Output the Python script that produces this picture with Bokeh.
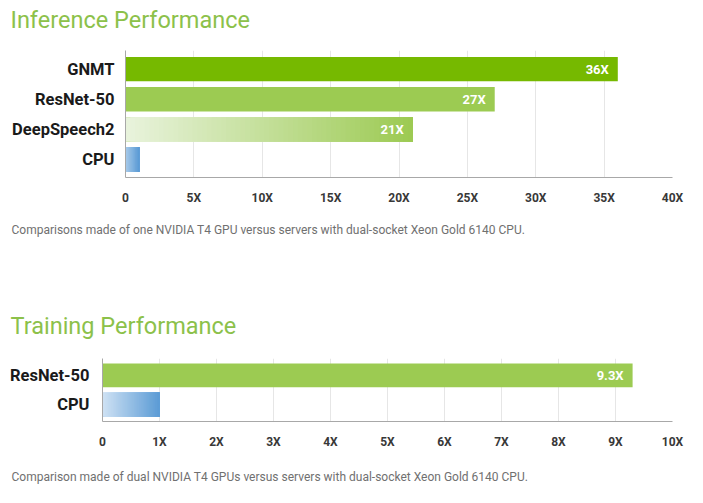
from bokeh.plotting import figure
from bokeh.models import ColumnDataSource, Range1d, Title, LabelSet, FixedTicker
from bokeh.core.properties import value
from bokeh.embed import file_html
from bokeh.resources import INLINE

# ---------------- data ----------------
inf_title = "Inference Performance"
inf_note = "Comparisons made of one NVIDIA T4 GPU versus servers with dual-socket Xeon Gold 6140 CPU."
inf_cats = ["GNMT", "ResNet-50", "DeepSpeech2", "CPU"]
inf_vals = [36, 27, 21, 1]
inf_labels = ["36X", "27X", "21X", ""]
inf_ticks = [0, 5, 10, 15, 20, 25, 30, 35, 40]
inf_tick_labels = ["0", "5X", "10X", "15X", "20X", "25X", "30X", "35X", "40X"]

train_title = "Training Performance"
train_note = "Comparison made of dual NVIDIA T4 GPUs versus servers with dual-socket Xeon Gold 6140 CPU."
train_cats = ["ResNet-50", "CPU"]
train_vals = [9.3, 1]
train_labels = ["9.3X", ""]
train_ticks = [0, 1, 2, 3, 4, 5, 6, 7, 8, 9, 10]
train_tick_labels = ["0", "1X", "2X", "3X", "4X", "5X", "6X", "7X", "8X", "9X", "10X"]

# ---------------- styles ----------------
inf_colors = [("#76b900", "#76b900"), ("#9ccb52", "#9ccb52"),
              ("#e9f3dd", "#9cca52"), ("#a9cbea", "#5b9bd5")]
train_colors = [("#9ccb52", "#9ccb52"), ("#cfe2f4", "#5b9bd5")]

TITLE_COLOR = "#8cc14a"
FONT = "Roboto"
WIDTH = 700


def hex2rgb(h):
    h = h.lstrip("#")
    return tuple(int(h[i:i + 2], 16) for i in (0, 2, 4))


def mix(c1, c2, t):
    a, b = hex2rgb(c1), hex2rgb(c2)
    return "#%02x%02x%02x" % tuple(round(a[i] + (b[i] - a[i]) * t) for i in range(3))


def make_title(text, height, standoff):
    t = figure(width=WIDTH, height=height, output_backend="svg", toolbar_location=None,
               x_range=Range1d(0, 1), y_range=Range1d(0, 1),
               x_axis_location=None, y_axis_location=None,
               min_border_left=0, min_border_right=0, min_border_top=0,
               min_border_bottom=0)
    t.grid.visible = False
    t.outline_line_color = None
    t.title.text = text
    t.title.align = "left"
    t.title.offset = 10
    t.title.standoff = standoff
    t.title.text_font = FONT
    t.title.text_font_size = "23.5px"
    t.title.text_font_style = "normal"
    t.title.text_color = TITLE_COLOR
    return t


def make_chart(note, cats, vals, labels, ticks, tick_labels, colors,
               xmax, ypad, height, border_left, border_bottom, y_standoff, note_standoff):
    n_cat = len(cats)
    ypos = [n_cat - 1 - i for i in range(n_cat)]
    p = figure(width=WIDTH, height=height, output_backend="svg", toolbar_location=None,
               y_range=Range1d(-ypad[0], n_cat - 1 + ypad[1]),
               x_range=Range1d(0, xmax),
               min_border_left=border_left, min_border_right=WIDTH - 672,
               min_border_top=0, min_border_bottom=border_bottom)
    p.title = None
    src = ColumnDataSource(dict(y=ypos, val=vals, lab=labels,
                                color=[c[1] for c in colors]))
    p.hbar(y="y", right="val", left=0, height=0.81, source=src,
           fill_color="color", line_color=None)
    # gradient overlay strips computed from each bar's value (each strip runs to bar end)
    n = 60
    gy, gl, gr, gc = [], [], [], []
    for yy, v, (c0, c1) in zip(ypos, vals, colors):
        if c0 == c1:
            continue
        for k in range(n):
            gy.append(yy)
            gl.append(v * k / n)
            gr.append(v)
            gc.append(mix(c0, c1, (k + 0.5) / n))
    if gy:
        p.hbar(y=gy, left=gl, right=gr, height=0.81, fill_color=gc, line_color=None)
    p.add_layout(LabelSet(x="val", y="y", text="lab", source=src, x_offset=-9,
                          text_align="right", text_baseline="middle",
                          text_color="white", text_font_size="13px",
                          text_font=value(FONT), text_font_style="bold"))

    p.outline_line_color = None
    p.ygrid.grid_line_color = None
    p.xgrid.ticker = FixedTicker(ticks=ticks)
    p.xgrid.grid_line_color = "#e6e6e6"
    p.xaxis.ticker = FixedTicker(ticks=ticks)
    p.xaxis.major_label_overrides = {t: l for t, l in zip(ticks, tick_labels)}
    p.yaxis.ticker = FixedTicker(ticks=ypos)
    p.yaxis.major_label_overrides = {yy: c for yy, c in zip(ypos, cats)}
    for ax in (p.xaxis, p.yaxis):
        ax.axis_line_color = "#a8a8a8"
        ax.major_tick_line_color = None
        ax.minor_tick_line_color = None
        ax.major_tick_out = 0
        ax.major_tick_in = 0
    p.xaxis.major_label_standoff = 13
    p.xaxis.major_label_text_font = FONT
    p.xaxis.major_label_text_font_size = "12px"
    p.xaxis.major_label_text_font_style = "bold"
    p.xaxis.major_label_text_color = "#383838"
    p.yaxis.major_label_standoff = y_standoff
    p.yaxis.major_label_text_font = FONT
    p.yaxis.major_label_text_font_size = "16.5px"
    p.yaxis.major_label_text_font_style = "bold"
    p.yaxis.major_label_text_color = "#1a1a1a"

    p.add_layout(Title(text=note, align="left", offset=11 - border_left,
                       standoff=note_standoff, text_font=FONT, text_font_size="12px",
                       text_font_style="normal", text_color="#707070"), "below")
    return p


t1 = make_title(inf_title, 50, 7)
p1 = make_chart(inf_note, inf_cats, inf_vals, inf_labels, inf_ticks, inf_tick_labels,
                inf_colors, 40, (0.6, 0.62), 250, 125, 123, 11, 27)
t2 = make_title(train_title, 58, 18)
p2 = make_chart(train_note, train_cats, train_vals, train_labels, train_ticks,
                train_tick_labels, train_colors, 10, (0.58, 0.58), 142, 102, 76, 13, 33)

open("out.html", "w").write(file_html([t1, p1, t2, p2], INLINE))
